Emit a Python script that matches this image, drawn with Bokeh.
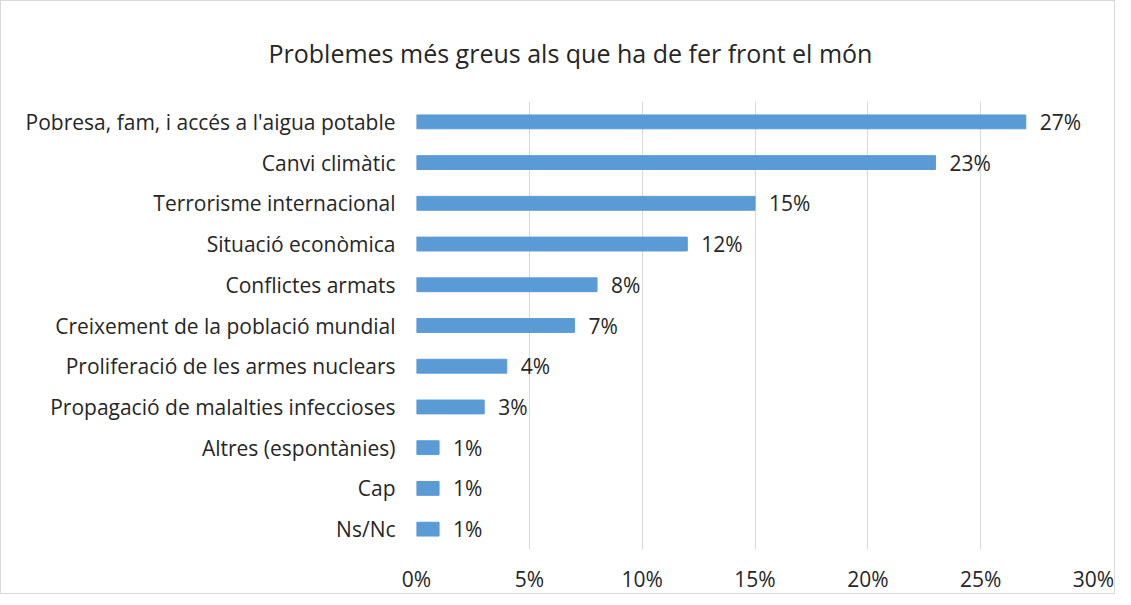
from bokeh.plotting import figure
from bokeh.models import ColumnDataSource, LabelSet, NumeralTickFormatter, FixedTicker, Range1d
from bokeh.core.properties import value
from bokeh.embed import file_html
from bokeh.resources import INLINE

categories = ["Pobresa, fam, i accés a l'aigua potable", "Canvi climàtic", "Terrorisme internacional",
              "Situació econòmica", "Conflictes armats", "Creixement de la població mundial",
              "Proliferació de les armes nuclears", "Propagació de malalties infeccioses",
              "Altres (espontànies)", "Cap", "Ns/Nc"]
values = [27, 23, 15, 12, 8, 7, 4, 3, 1, 1, 1]
labels = [f"{v}%" for v in values]
title_text = "Problemes més greus als que ha de fer front el món"

FONT = "Open Sans"
src = ColumnDataSource(dict(cat=categories, val=[v / 100 for v in values], lab=labels))

p = figure(width=1115, height=594, y_range=list(reversed(categories)), x_range=Range1d(0, 0.30),
           output_backend="svg", toolbar_location=None, title=title_text,
           min_border_left=415, min_border_right=23, min_border_top=99, min_border_bottom=44)
p.styles = {"border": "1px solid #d9d9d9"}
p.hbar(y="cat", right="val", height=0.34, source=src, color="#5B9BD5")
p.add_layout(LabelSet(x="val", y="cat", text="lab", source=src, x_offset=14, text_align="left",
                      text_baseline="middle", text_font=value(FONT), text_font_size="21px",
                      text_color="#262626"))
p.y_range.range_padding = 0
p.outline_line_color = None
p.xgrid.grid_line_color = "#d9d9d9"
p.ygrid.grid_line_color = None
p.xaxis.ticker = FixedTicker(ticks=[0, 0.05, 0.10, 0.15, 0.20, 0.25, 0.30])
p.xaxis.formatter = NumeralTickFormatter(format="0%")
for ax in (p.xaxis[0], p.yaxis[0]):
    ax.axis_line_color = None
    ax.major_tick_line_color = None
    ax.minor_tick_line_color = None
    ax.major_label_text_font = FONT
    ax.major_label_text_font_size = "21px"
    ax.major_label_text_color = "#262626"
p.xaxis.major_label_standoff = 9
p.yaxis.major_label_standoff = 15
p.title.align = "left"
p.title.offset = -148
p.title.text_font = FONT
p.title.text_font_size = "25px"
p.title.text_font_style = "normal"
p.title.text_color = "#262626"
p.title.standoff = 64

open("out.html", "w").write(file_html(p, INLINE))
